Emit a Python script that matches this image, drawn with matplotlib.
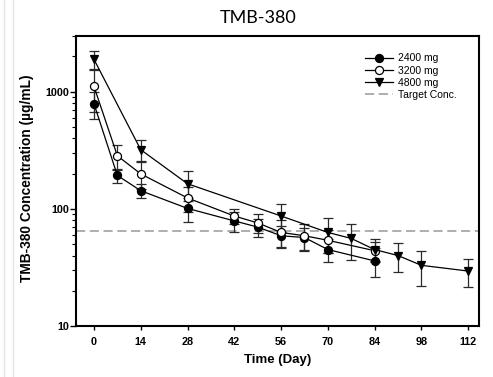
import matplotlib
matplotlib.use("Agg")
import matplotlib.pyplot as plt
from matplotlib.lines import Line2D
from matplotlib.ticker import FixedLocator, LogLocator, NullFormatter

# Mean serum concentration (ug/mL) and SD per dose group
days_2400 = [0, 7, 14, 28, 42, 49, 56, 63, 70, 84]
conc_2400 = [790, 193, 143, 101, 79, 70, 59, 57, 45, 36]
sd_2400 = [200, 25, 20, 24, 16, 12, 12, 12, 10, 10]

days_3200 = [0, 7, 14, 28, 42, 49, 56, 63, 70, 84]
conc_3200 = [1110, 284, 199, 124, 87, 76, 63, 59, 54, 44]
sd_3200 = [440, 68, 50, 30, 12, 14, 17, 15, 12, 8]

days_4800 = [0, 14, 28, 56, 70, 77, 84, 91, 98, 112]
conc_4800 = [1890, 320, 164, 87, 63, 56, 45, 40, 33, 29.5]
sd_4800 = [350, 65, 47, 23, 21, 19, 10, 11, 11, 8]

target_conc = 65
x_ticks = [0, 14, 28, 42, 56, 70, 84, 98, 112]

LABEL_FONT = "Liberation Sans"

fig = plt.figure(figsize=(4.93, 3.77), dpi=100)
ax = fig.add_axes([0.154, 0.135, 0.818, 0.770])

# faint vertical rules at the left edge of the page
for xf in (3.5 / 493, 12.5 / 493):
    fig.add_artist(Line2D([xf, xf], [0, 1], transform=fig.transFigure,
                          color="#e4e4e4", lw=1.0))

series = [
    (days_2400, conc_2400, sd_2400, "o", "black", "2400 mg"),
    (days_3200, conc_3200, sd_3200, "o", "white", "3200 mg"),
    (days_4800, conc_4800, sd_4800, "v", "black", "4800 mg"),
]
handles = []
for d, c, s, mk, fc, lab in series:
    ax.errorbar(d, c, yerr=s, fmt="none", ecolor="#2a2a2a", elinewidth=0.9,
                capsize=3.5, capthick=0.9, zorder=2.5)
    h, = ax.plot(d, c, "-", marker=mk, ms=5.8, mfc=fc, mec="black", mew=0.9,
                 color="black", lw=0.9, label=lab, zorder=3)
    handles.append(h)

tl = ax.axhline(target_conc, color="#999999", lw=1.1, ls=(0, (6, 3)),
                label="Target Conc.", zorder=2)
handles.append(tl)

ax.set_yscale("log")
ax.set_ylim(10, 3000)
ax.set_xlim(-5.4, 115.3)

ax.xaxis.set_major_locator(FixedLocator(x_ticks))
ax.set_xticklabels([str(t) for t in x_ticks])
ax.yaxis.set_major_locator(FixedLocator([10, 100, 1000]))
ax.set_yticklabels(["10", "100", "1000"])
ax.yaxis.set_minor_locator(LogLocator(base=10, subs=range(2, 10)))
ax.yaxis.set_minor_formatter(NullFormatter())

for sp in ax.spines.values():
    sp.set_linewidth(1.5)

ax.tick_params(axis="x", which="major", direction="out", length=3, width=1.0,
               pad=5)
ax.tick_params(axis="y", which="major", direction="out", length=4.3, width=1.0,
               pad=0.8)
ax.tick_params(axis="y", which="minor", direction="out", length=3, width=0.8)
for lbl in ax.get_xticklabels() + ax.get_yticklabels():
    lbl.set_fontfamily(LABEL_FONT)
    lbl.set_fontweight("bold")
    lbl.set_fontsize(7.8)

ax.set_xlabel("Time (Day)", fontfamily=LABEL_FONT, fontweight="bold",
              fontsize=9.5)
ax.xaxis.set_label_coords(0.5, -0.097)
ax.set_ylabel("TMB-380 Concentration (\u00b5g/mL)", fontfamily=LABEL_FONT,
              fontweight="bold", fontsize=9.9)
ax.yaxis.set_label_coords(-0.105, 0.51)

fig.text(0.523, 0.952, "TMB-380", ha="center", va="center",
         fontfamily="Lato", fontsize=13)

leg = ax.legend(handles=handles, loc="upper left",
                bbox_to_anchor=(0.717, 0.94), frameon=False,
                prop={"family": LABEL_FONT, "size": 7.5}, handlelength=2.7,
                handletextpad=0.5, labelspacing=0.22, borderaxespad=0,
                borderpad=0)

fig.savefig("out.png", dpi=100)
